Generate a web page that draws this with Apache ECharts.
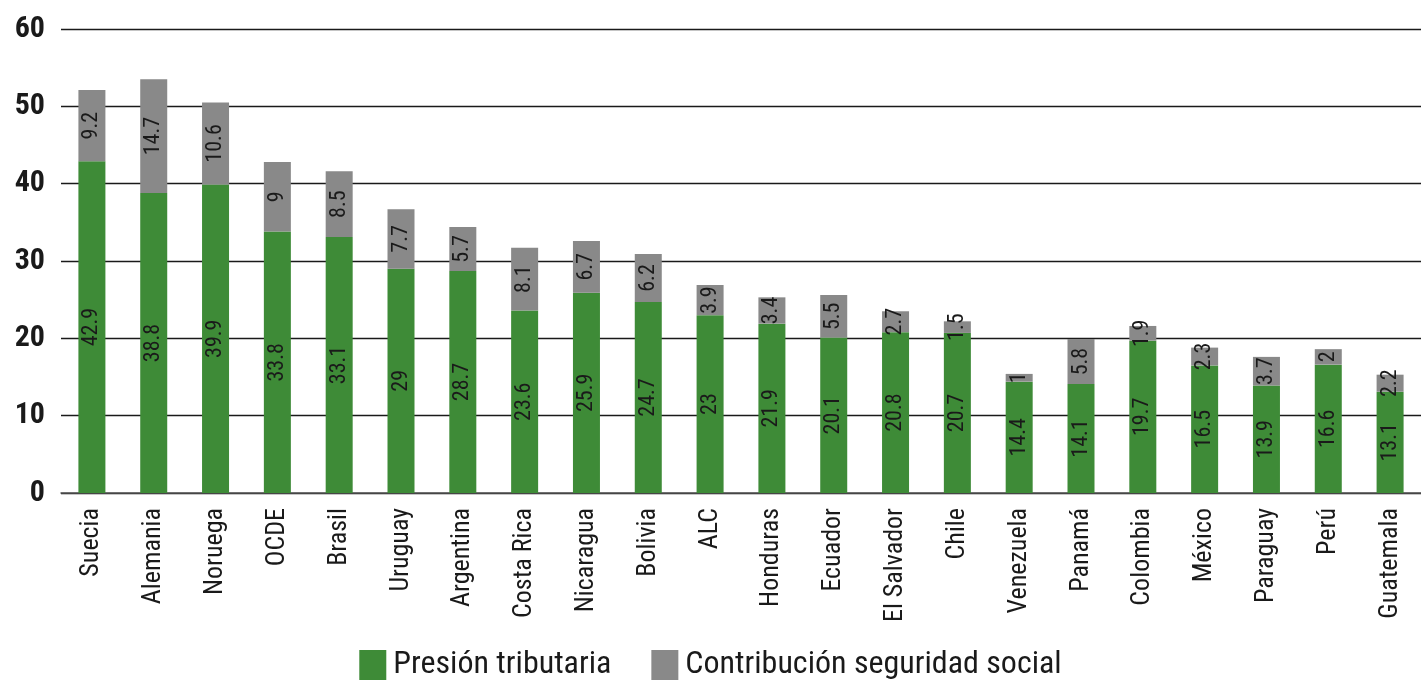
<!DOCTYPE html>
<html>
<head>
<meta charset="utf-8">
<script src="https://cdn.jsdelivr.net/npm/echarts@6/dist/echarts.min.js"></script>
<style>html,body{margin:0;padding:0;background:#fff}#c{width:1421px;height:680px}</style>
</head>
<body>
<div id="c"></div>
<script>
const categories = ["Suecia","Alemania","Noruega","OCDE","Brasil","Uruguay","Argentina","Costa Rica","Nicaragua","Bolivia","ALC","Honduras","Ecuador","El Salvador","Chile","Venezuela","Panamá","Colombia","México","Paraguay","Perú","Guatemala"];
const presion = [42.9,38.8,39.9,33.8,33.1,29,28.7,23.6,25.9,24.7,23,21.9,20.1,20.8,20.7,14.4,14.1,19.7,16.5,13.9,16.6,13.1];
const seguridad = [9.2,14.7,10.6,9,8.5,7.7,5.7,8.1,6.7,6.2,3.9,3.4,5.5,2.7,1.5,1,5.8,1.9,2.3,3.7,2,2.2];
const yTicks = [0,10,20,30,40,50,60];

const chart = echarts.init(document.getElementById('c'));
const font = '"Roboto Condensed", "Open Sans", sans-serif';
const lbl = {show:true, position:'inside', rotate:90, color:'#1a1a1a', fontSize:22, fontFamily:font};
chart.setOption({
  animation:false,
  grid:{left:61, right:0, top:29, bottom:187},
  legend:{bottom:-6, left:'center', itemWidth:27, itemHeight:30, itemGap:40, icon:'rect',
    textStyle:{fontSize:32, fontFamily:font, color:'#1a1a1a', padding:[0,0,0,2]}},
  xAxis:{type:'category', data:categories,
    axisLine:{lineStyle:{color:'#555', width:1.5}}, axisTick:{show:false},
    axisLabel:{rotate:90, fontSize:26, fontFamily:font, color:'#1a1a1a', margin:15, interval:0}},
  yAxis:{type:'value', min:yTicks[0], max:yTicks[yTicks.length-1], interval:10,
    axisLine:{show:false}, axisTick:{show:false},
    splitLine:{lineStyle:{color:'#1a1a1a', width:1.3}},
    axisLabel:{fontSize:30, fontWeight:'bold', fontFamily:font, color:'#1a1a1a', margin:16}},
  series:[
    {name:'Presión tributaria', type:'bar', stack:'t', data:presion, barWidth:27,
      itemStyle:{color:'#3e8b37'}, label:lbl},
    {name:'Contribución seguridad social', type:'bar', stack:'t', data:seguridad, barWidth:27,
      itemStyle:{color:'#898989'}, label:lbl}
  ]
});
</script>
</body>
</html>
